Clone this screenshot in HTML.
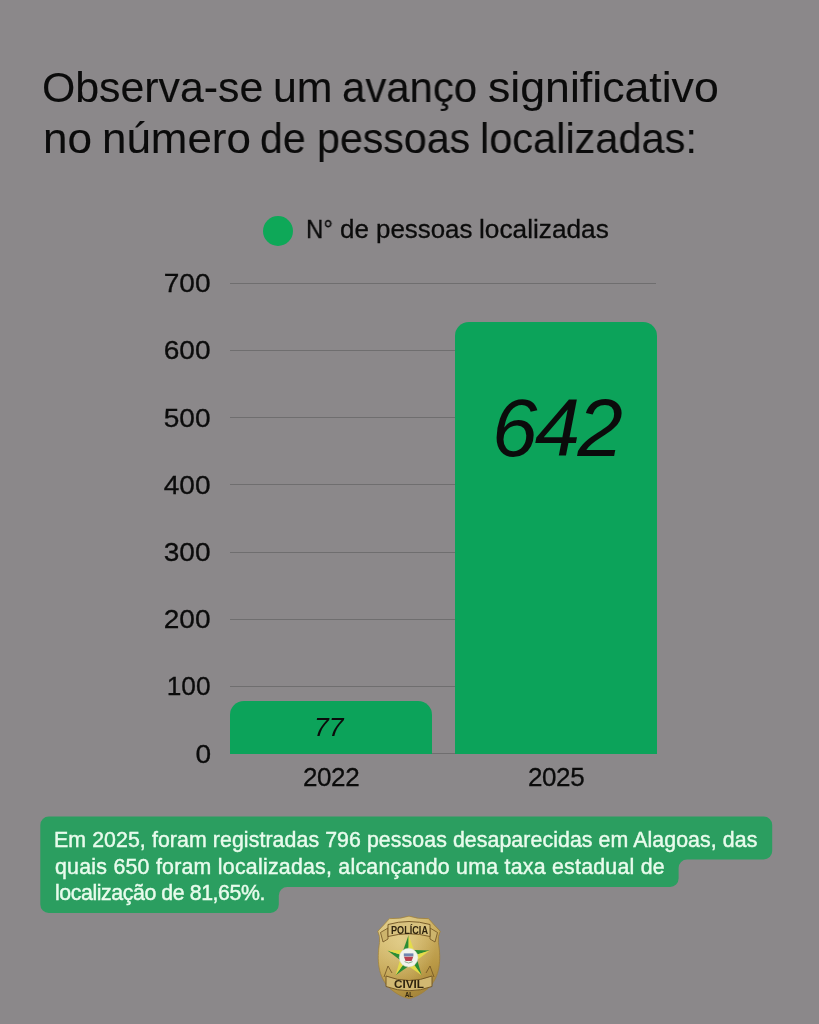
<!DOCTYPE html>
<html><head><meta charset="utf-8">
<style>
html,body{margin:0;padding:0;}
.a,.tw,.lw,.ylab,.bt{will-change:transform;}
body{width:819px;height:1024px;background:#8b888a;position:relative;overflow:hidden;font-family:"Liberation Sans",sans-serif;color:#0b0b0b;-webkit-text-stroke:0.3px #0b0b0b;}
.a{position:absolute;white-space:pre;line-height:1;}
.grid{position:absolute;left:229.5px;width:426.5px;height:1px;background:#6f6e6f;}
.ylab{position:absolute;right:608px;font-size:25.5px;line-height:1;text-align:right;white-space:pre;transform:scaleX(1.1);transform-origin:right center;}
.bar{position:absolute;background:#0ca35a;border-radius:14px 14px 0 0;}
.tw{position:absolute;white-space:pre;line-height:1;font-size:42.5px;transform-origin:0 0;-webkit-text-stroke:0.1px #0b0b0b;}
.lw{position:absolute;white-space:pre;line-height:1;font-size:25.5px;top:216.5px;transform-origin:0 0;}
.bt{position:absolute;left:54.1px;font-size:21.3px;line-height:1;white-space:pre;color:#e8fbec;-webkit-text-stroke:0.45px #e8fbec;}
</style></head><body>
<div class="tw" style="left:42.39px;top:67px;transform:scaleX(1.0074)">Observa-se</div>
<div class="tw" style="left:273.28px;top:67px;transform:scaleX(1.0091)">um</div>
<div class="tw" style="left:342.01px;top:67px;transform:scaleX(0.9852)">avanço</div>
<div class="tw" style="left:487.95px;top:67px;transform:scaleX(1.0505)">significativo</div>
<div class="tw" style="left:43.33px;top:117.7px;transform:scaleX(1.0364)">no</div>
<div class="tw" style="left:101.53px;top:117.7px;transform:scaleX(1.0333)">número</div>
<div class="tw" style="left:260.44px;top:117.7px;transform:scaleX(0.9644)">de</div>
<div class="tw" style="left:316.56px;top:117.7px;transform:scaleX(0.9677)">pessoas</div>
<div class="tw" style="left:479.55px;top:117.7px;transform:scaleX(0.977)">localizadas:</div>

<div id="dot" style="position:absolute;left:263px;top:215.5px;width:30px;height:30px;border-radius:50%;background:#0ea858;"></div>
<div class="lw" style="left:306.46px;transform:scaleX(0.937)">N°</div>
<div class="lw" style="left:339.73px;transform:scaleX(1.0167)">de</div>
<div class="lw" style="left:375.59px;transform:scaleX(1.0149)">pessoas</div>
<div class="lw" style="left:478.97px;transform:scaleX(1.0288)">localizadas</div>

<div class="grid" style="top:283px"></div>
<div class="grid" style="top:350px"></div>
<div class="grid" style="top:417px"></div>
<div class="grid" style="top:484px"></div>
<div class="grid" style="top:552px"></div>
<div class="grid" style="top:619px"></div>
<div class="grid" style="top:686px"></div>
<div class="grid" style="top:753px"></div>

<div class="ylab" style="top:271.3px">700</div>
<div class="ylab" style="top:338.4px">600</div>
<div class="ylab" style="top:405.6px">500</div>
<div class="ylab" style="top:472.8px">400</div>
<div class="ylab" style="top:540px">300</div>
<div class="ylab" style="top:607.1px">200</div>
<div class="ylab" style="top:674.3px;transform:scaleX(1.03)">100</div>
<div class="ylab" style="top:741.5px">0</div>

<div id="b1" class="bar" style="left:229.5px;top:701.2px;width:202.5px;height:52.8px;"></div>
<div id="b2" class="bar" style="left:454.5px;top:321.5px;width:202px;height:432.5px;"></div>

<div id="v77" class="a" style="left:314px;top:713.5px;font-size:26.5px;font-style:italic;-webkit-text-stroke:0;">77</div>
<div id="v642" class="a" style="left:492px;top:386.6px;font-size:81.5px;font-style:italic;letter-spacing:-2.6px;-webkit-text-stroke:0;">642</div>

<div id="x1" class="a" style="left:303px;top:763.5px;font-size:26px;letter-spacing:-0.4px;">2022</div>
<div id="x2" class="a" style="left:527.6px;top:763.5px;font-size:26px;letter-spacing:-0.4px;">2025</div>

<svg style="position:absolute;left:0;top:0" width="819" height="1024">
<path fill="#2b9e60" d="M48.8,816.6 H763.7 A8.5,8.5 0 0 1 772.2,825.1 V851.0 A8.5,8.5 0 0 1 763.7,859.5 H687.1 A8.5,8.5 0 0 0 678.6,868.0 V878.5 A8.5,8.5 0 0 1 670.1,887 H287.3 A8.5,8.5 0 0 0 278.8,895.5 V904.5 A8.5,8.5 0 0 1 270.3,913 H48.8 A8.5,8.5 0 0 1 40.3,904.5 V825.1 A8.5,8.5 0 0 1 48.8,816.6 Z"/>
</svg>
<div id="bt1" class="bt" style="top:830px;letter-spacing:0.09px;">Em 2025, foram registradas 796 pessoas desaparecidas em Alagoas, das</div>
<div id="bt2" class="bt" style="top:856.6px;left:54.9px;letter-spacing:0.26px;">quais 650 foram localizadas, alcançando uma taxa estadual de</div>
<div id="bt3" class="bt" style="top:883.1px;left:54.6px;letter-spacing:-0.41px;">localização de 81,65%.</div>

<svg id="badge" style="position:absolute;left:377px;top:915px" width="64" height="86" viewBox="0 0 64 86">
<defs>
<linearGradient id="gold" x1="0.2" y1="0" x2="0.6" y2="1">
<stop offset="0" stop-color="#dcc680"/>
<stop offset="0.35" stop-color="#cdb062"/>
<stop offset="0.75" stop-color="#b99845"/>
<stop offset="1" stop-color="#a4843a"/>
</linearGradient>
<radialGradient id="shine" cx="0.38" cy="0.32" r="0.55">
<stop offset="0" stop-color="#f0e2a6" stop-opacity="0.55"/>
<stop offset="1" stop-color="#f0e2a6" stop-opacity="0"/>
</radialGradient>
</defs>
<path id="shape" fill="url(#gold)" stroke="#a2823c" stroke-width="0.9" d="M32,1.2 Q23,4.2 12.5,3.6 Q7,10 0.8,16.2 Q3.4,21.5 2.6,27.5 C-0.2,45 0.8,62 13,73.5 Q23,82 32,83.5 Q41,82 51,73.5 C63.2,62 64.2,45 61.4,27.5 Q60.6,21.5 63.2,16.2 Q57,10 51.5,3.6 Q41,4.2 32,1.2 Z"/>
<path fill="url(#shine)" d="M32,1.2 Q23,4.2 12.5,3.6 Q7,10 0.8,16.2 Q3.4,21.5 2.6,27.5 C-0.2,45 0.8,62 13,73.5 Q23,82 32,83.5 Q41,82 51,73.5 C63.2,62 64.2,45 61.4,27.5 Q60.6,21.5 63.2,16.2 Q57,10 51.5,3.6 Q41,4.2 32,1.2 Z"/>
<path fill="#cdb46c" stroke="#6e5222" stroke-width="0.8" d="M3.5,17.5 L11,13 L11,24 L6,27 Z M60.5,17.5 L53,13 L53,24 L58,27 Z"/>
<path fill="#d8c27e" stroke="#6e5222" stroke-width="0.9" d="M11,9.5 Q32,3.5 53,9.5 L53,21.5 Q32,16 11,21.5 Z"/>
<text x="32.5" y="19.4" text-anchor="middle" font-family="Liberation Sans" font-weight="bold" font-size="10.6" fill="#2e230e" textLength="37" lengthAdjust="spacingAndGlyphs">POLÍCIA</text>
<path fill="none" stroke="#6e5222" stroke-width="0.8" d="M7,62 L11,51 L15,58 M57,62 L53,51 L49,58"/>
<path fill="#d1b872" stroke="#6e5222" stroke-width="0.9" d="M9,61 Q32,70 55,61 L55,71.5 Q32,80 9,71.5 Z"/>
<path fill="#2a8d34" d="M31.60,42.30 L26.31,35.02 L31.60,20.10 Z"/>
<path fill="#e4dc4a" d="M31.60,42.30 L31.60,20.10 L36.89,35.02 Z"/>
<path fill="#2a8d34" d="M31.60,42.30 L36.89,35.02 L52.71,35.44 Z"/>
<path fill="#e4dc4a" d="M31.60,42.30 L52.71,35.44 L40.16,45.08 Z"/>
<path fill="#2a8d34" d="M31.60,42.30 L40.16,45.08 L44.65,60.26 Z"/>
<path fill="#e4dc4a" d="M31.60,42.30 L44.65,60.26 L31.60,51.30 Z"/>
<path fill="#2a8d34" d="M31.60,42.30 L31.60,51.30 L18.55,60.26 Z"/>
<path fill="#e4dc4a" d="M31.60,42.30 L18.55,60.26 L23.04,45.08 Z"/>
<path fill="#2a8d34" d="M31.60,42.30 L23.04,45.08 L10.49,35.44 Z"/>
<path fill="#e4dc4a" d="M31.60,42.30 L10.49,35.44 L26.31,35.02 Z"/>
<circle cx="31.6" cy="42.6" r="9.4" fill="#f2f3ec" stroke="#d8d8c8" stroke-width="0.5"/>
<rect x="26.8" y="38.4" width="9.6" height="3" fill="#7086b0"/>
<path fill="#b8404e" d="M27,41.7 L36.2,41.7 L34.6,45.9 L28.6,45.9 Z"/>
<path fill="none" stroke="#6f9a78" stroke-width="0.8" d="M27.6,46.7 Q31.6,49.3 35.6,46.7"/>
<text x="32" y="73" text-anchor="middle" font-family="Liberation Sans" font-weight="bold" font-size="10.6" fill="#2e230e" textLength="30" lengthAdjust="spacingAndGlyphs">CIVIL</text>
<text x="32" y="81.7" text-anchor="middle" font-family="Liberation Sans" font-weight="bold" font-size="6.4" fill="#2e230e" textLength="8" lengthAdjust="spacingAndGlyphs">AL</text>
</svg>
</body></html>
